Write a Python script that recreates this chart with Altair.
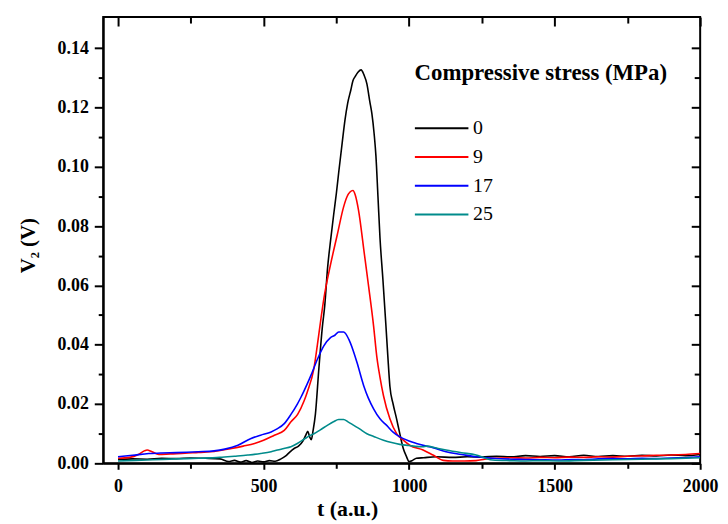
import altair as alt
import pandas as pd

# ---- data ----
stress_labels = ["0", "9", "17", "25"]
line_colors = ["#000000", "#ff0000", "#0000ff", "#008b8b"]

t_0 = [0, 50, 100, 150, 200, 250, 300, 350, 380, 400, 420, 440, 460, 480, 500, 520, 540, 560,
       575, 590, 605, 620, 635, 645, 652, 658, 664, 670, 678, 690, 702, 710, 720, 730, 741, 750,
       758, 770, 780, 789, 800, 807, 815, 825, 835, 845, 855, 865, 872, 880, 886, 893, 900, 910,
       920, 927, 934, 945, 957, 968, 980, 990, 1000, 1012, 1025, 1050, 1093, 1150, 1200, 1250,
       1300, 1350, 1400, 1450, 1500, 1550, 1600, 1650, 1700, 1750, 1800, 1850, 1900, 1950, 2000]
v_0 = [0.0013, 0.0015, 0.0014, 0.0017, 0.0016, 0.0018, 0.0017, 0.0015, 0.0006, 0.0010, 0.0004,
       0.0009, 0.0003, 0.0008, 0.0005, 0.0009, 0.0007, 0.0015, 0.0024, 0.0038, 0.0050, 0.0058,
       0.0075, 0.0095, 0.0108, 0.0090, 0.0080, 0.0110, 0.0165, 0.032, 0.046, 0.053, 0.066, 0.075,
       0.084, 0.091, 0.098, 0.108, 0.116, 0.1215, 0.126, 0.129, 0.1305, 0.132, 0.1327, 0.131,
       0.128, 0.122, 0.118, 0.111, 0.1037, 0.090, 0.076, 0.062, 0.047, 0.036, 0.026, 0.020, 0.015,
       0.010, 0.005, 0.0025, 0.0006, 0.0010, 0.0017, 0.0019, 0.0022, 0.0020, 0.0022, 0.0021,
       0.0024, 0.0022, 0.0026, 0.0023, 0.0026, 0.0022, 0.0027, 0.0023, 0.0026, 0.0024, 0.0027,
       0.0025, 0.0028, 0.0026, 0.0030]

t_9 = [0, 40, 70, 90, 100, 115, 140, 180, 230, 276, 330, 390, 430, 469, 500, 537, 571, 594, 617,
       639, 650, 673, 685, 696, 707, 730, 753, 775, 787, 797, 807, 815, 826, 846, 861, 878, 889,
       900, 912, 934, 957, 980, 1002, 1048, 1082, 1117, 1150, 1190, 1230, 1260, 1287, 1350, 1400,
       1450, 1500, 1550, 1600, 1650, 1700, 1750, 1800, 1850, 1900, 1950, 2000]
v_9 = [0.0017, 0.0020, 0.0030, 0.0042, 0.0045, 0.0040, 0.0030, 0.0032, 0.0034, 0.0037, 0.0040,
       0.0050, 0.0058, 0.0067, 0.0078, 0.0095, 0.0111, 0.0140, 0.0165, 0.021, 0.024, 0.032,
       0.040, 0.048, 0.0555, 0.0670, 0.0770, 0.0865, 0.0900, 0.0915, 0.092, 0.0905, 0.0855,
       0.0708, 0.0596, 0.0463, 0.036, 0.029, 0.0228, 0.015, 0.010, 0.0078, 0.0061, 0.0045,
       0.0028, 0.0010, 0.0008, 0.0008, 0.0009, 0.0014, 0.0017, 0.0019, 0.0018, 0.0020, 0.0019,
       0.0021, 0.0020, 0.0022, 0.0021, 0.0024, 0.0025, 0.0027, 0.0028, 0.0030, 0.0033]

t_17 = [0, 50, 106, 150, 200, 276, 330, 367, 412, 457, 490, 526, 548, 571, 594, 616, 628, 650,
        662, 685, 707, 730, 745, 758, 775, 793, 808, 821, 844, 860, 878, 900, 923, 945, 968, 1000,
        1025, 1059, 1082, 1127, 1180, 1230, 1287, 1350, 1400, 1450, 1513, 1560, 1600, 1650, 1700,
        1750, 1800, 1850, 1900, 1950, 2000]
v_17 = [0.0022, 0.0027, 0.0033, 0.0035, 0.0036, 0.0039, 0.0042, 0.0048, 0.0061, 0.0084, 0.0095,
        0.0106, 0.0117, 0.0134, 0.0165, 0.0200, 0.0222, 0.0268, 0.0295, 0.0351, 0.0396, 0.0424,
        0.0432, 0.0443, 0.0443, 0.0418, 0.0380, 0.0340, 0.0262, 0.0220, 0.0184, 0.0150, 0.0128,
        0.0105, 0.0089, 0.0075, 0.0067, 0.0058, 0.0053, 0.0039, 0.0030, 0.0022, 0.0017, 0.0014,
        0.0013, 0.0012, 0.0011, 0.0013, 0.0012, 0.0015, 0.0016, 0.0015, 0.0017, 0.0016, 0.0018,
        0.0019, 0.0022]

t_25 = [0, 60, 120, 200, 276, 350, 400, 446, 490, 526, 548, 570, 594, 616, 640, 662, 673, 695,
        719, 740, 758, 775, 790, 810, 830, 855, 880, 912, 940, 968, 1000, 1048, 1059, 1100, 1127,
        1180, 1230, 1260, 1287, 1350, 1400, 1450, 1513, 1600, 1700, 1800, 1900, 2000]
v_25 = [0.0008, 0.0010, 0.0012, 0.0015, 0.0017, 0.0020, 0.0024, 0.0028, 0.0033, 0.0039, 0.0045,
        0.0050, 0.0056, 0.0067, 0.0082, 0.0095, 0.0100, 0.0113, 0.0128, 0.0140, 0.0148, 0.0148,
        0.0140, 0.0128, 0.0116, 0.0100, 0.0090, 0.0078, 0.0070, 0.0064, 0.0060, 0.0056, 0.0058,
        0.0050, 0.0045, 0.0036, 0.0028, 0.0018, 0.0011, 0.0009, 0.0008, 0.0009, 0.0008, 0.0010,
        0.0012, 0.0014, 0.0016, 0.0019]

x_major = [0, 500, 1000, 1500, 2000]
x_minor = [250, 750, 1250, 1750]
y_major = [0.0, 0.02, 0.04, 0.06, 0.08, 0.10, 0.12, 0.14]
y_minor = [0.01, 0.03, 0.05, 0.07, 0.09, 0.11, 0.13]

# ---- build table ----
frames = []
for lab, tt, vv in zip(stress_labels, [t_0, t_9, t_17, t_25], [v_0, v_9, v_17, v_25]):
    frames.append(pd.DataFrame({"t": tt, "v": vv, "stress": lab}))
df = pd.concat(frames, ignore_index=True)

FONT = "Liberation Serif"
xscale = alt.Scale(domain=[-51, 2000], nice=False, zero=False)
yscale = alt.Scale(domain=[0, 0.1505], nice=False, zero=False)

base = alt.Chart(df)

main = base.mark_line(strokeWidth=1.6, clip=True, interpolate="monotone").encode(
    x=alt.X("t:Q", scale=xscale, axis=alt.Axis(
        orient="bottom", values=sorted(x_major + x_minor),
        labelExpr="datum.value % 500 === 0 ? datum.value : ''",
        tickSize={"condition": {"test": "datum.value % 500 === 0", "value": 6}, "value": 5},
        title="t (a.u.)", titleFont=FONT, titleFontSize=22, titleFontWeight="bold",
        titleX=246, titleAlign="center", titlePadding=4, titleColor="black",
        labelFont=FONT, labelFontSize=18, labelFontWeight="bold", labelColor="black",
        labelPadding=8, tickColor="black", tickWidth=2, domainColor="black", domainWidth=2,
        grid=False, labelFlush=False)),
    y=alt.Y("v:Q", scale=yscale, axis=alt.Axis(
        orient="left", values=sorted(y_major + y_minor),
        labelExpr="round(datum.value*100) % 2 === 0 ? format(datum.value, '.2f') : ''",
        tickSize={"condition": {"test": "round(datum.value*100) % 2 === 0", "value": 9}, "value": 5},
        title="V₂ (V)", titleFont=FONT, titleFontSize=21, titleFontWeight="bold",
        titleX=-75, titleY=230, titleAlign="center", titleBaseline="middle", titleColor="black",
        labelFont=FONT, labelFontSize=18, labelFontWeight="bold", labelColor="black",
        labelPadding=6, tickColor="black", tickWidth=2, domainColor="black", domainWidth=2,
        grid=False, labelFlush=False)),
    color=alt.Color("stress:N", scale=alt.Scale(domain=stress_labels, range=line_colors),
                    sort=stress_labels,
                    legend=alt.Legend(
                        title="Compressive stress (MPa)", orient="none", legendX=314, legendY=45,
                        titleFont=FONT, titleFontSize=23, titleFontWeight="bold", titleColor="black",
                        titleLimit=400, titlePadding=25, labelFont=FONT, labelFontSize=20,
                        labelColor="black", symbolType="M-1.056,0H1.994", symbolSize=1253,
                        symbolStrokeWidth=2, symbolFillColor="transparent",
                        labelOffset=21, rowPadding=0, padding=0)),
)

def mirror(xvals, yvals, size):
    return base.mark_line(opacity=0).encode(
        x=alt.X("t:Q", scale=xscale, axis=alt.Axis(
            orient="top", values=xvals, labels=False, domain=False, tickSize=size,
            offset=-size, title=None, grid=False, tickColor="black", tickWidth=2)),
        y=alt.Y("v:Q", scale=yscale, axis=alt.Axis(
            orient="right", values=yvals, labels=False, domain=False, tickSize=size,
            offset=-size, title=None, grid=False, tickColor="black", tickWidth=2)),
    )

chart = alt.layer(main, mirror(x_major, y_major, 9), mirror(x_minor, y_minor, 6)).resolve_axis(
    x="independent", y="independent"
).properties(
    width=602, height=450,
    autosize=alt.AutoSizeParams(type="none"),
    padding={"left": 96, "top": 7, "right": 20, "bottom": 58},
).configure_view(stroke="black", strokeWidth=2)

chart.save("out.html", embed_options={"renderer": "svg", "actions": False})
